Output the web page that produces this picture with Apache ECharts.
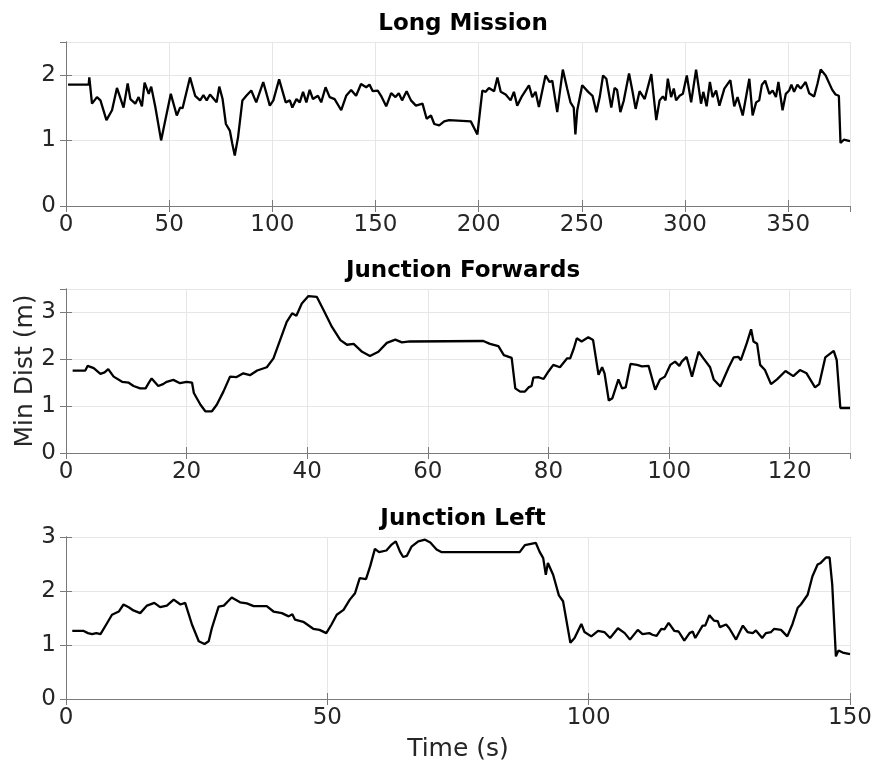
<!DOCTYPE html>
<html>
<head>
<meta charset="utf-8">
<title>Min Dist</title>
<script src="https://cdn.jsdelivr.net/npm/echarts@6/dist/echarts.min.js"></script>
<style>
	html, body { margin: 0; padding: 0; background: #fff; }
	#chart { width: 875px; height: 771px; }
</style>
</head>
<body>
<div id="chart"></div>
<script>
// 各子图的标题与坐标范围
var titles = ['Long Mission', 'Junction Forwards', 'Junction Left'];
var xMax = [380, 130, 150];
var xStep = [50, 20, 50];
var yMax = [2.5, 3.5, 3];

// Long Mission
var longTime = [1, 11, 11.3, 12.6, 15, 16.7, 19.6, 22.3, 24.7, 27.9, 29.9, 31.2, 33.6, 35.2, 36.8, 38.1, 40.1, 41.3, 43.3, 46.1,
	47.3, 50.8, 53.7, 55.3, 56.5, 60.1, 62.6, 65, 66.6, 68.2, 69.8, 73, 74.3, 75.9, 77.5, 79.4, 80.6, 81.8, 83.4, 85.5,
	87.4, 89.8, 92.2, 95.6, 98.8, 100.5, 103.3, 106.5, 108.5, 109.7, 111.7, 113.3, 114.9, 116.5, 118.1, 119.7, 122.1, 123.7, 125.8, 127.8,
	130.2, 133.4, 135.8, 138.2, 140.6, 143.0, 145.5, 147.1, 148.7, 151.1, 152.7, 155.2, 157.6, 159.7, 161.3, 162.9, 165.1, 167.2, 169.6, 172.8,
	174.8, 176.9, 178.5, 180.9, 183.3, 185.7, 196.2, 199.4, 201.8, 203.4, 205.0, 207.5, 209.1, 210.7, 213.1, 215.5, 217.1, 218.7, 221.1, 224.4,
	226.0, 227.6, 229.2, 232.4, 234.4, 235.7, 238.1, 240.8, 242.9, 244.5, 246.1, 246.9, 247.8, 250.2, 253.1, 255.2, 257.1, 258.7, 260.3, 261.9,
	264.3, 265.9, 267.1, 268.7, 270.3, 272.9, 274.5, 276.1, 278.0, 280.5, 283.7, 286.1, 287.7, 289.3, 290.6, 291.7, 293.3, 294.6, 295.7, 297.4,
	299.0, 300.9, 303.0, 305.4, 307.8, 308.9, 310.5, 312.1, 313.4, 315.1, 316.7, 319.1, 322.0, 323.9, 325.5, 328.0, 331.2, 332.8, 334.5, 336.0,
	337.3, 338.9, 340.9, 342.5, 344.1, 345.3, 347.3, 348.9, 350.5, 351.6, 352.9, 354.5, 356.1, 358.5, 360.2, 362.6, 364.2, 365.8, 368.2, 371.4,
	373.0, 374.6, 375.4, 377.0, 380];
var longDist = [1.85, 1.85, 1.96, 1.56, 1.66, 1.61, 1.31, 1.46, 1.80, 1.50, 1.87, 1.63, 1.56, 1.66, 1.52, 1.88, 1.71, 1.82, 1.51, 1.00,
	1.18, 1.71, 1.38, 1.50, 1.49, 1.96, 1.68, 1.61, 1.69, 1.61, 1.70, 1.58, 1.82, 1.63, 1.25, 1.15, 0.95, 0.77, 1.05, 1.61,
	1.68, 1.76, 1.58, 1.89, 1.53, 1.61, 1.93, 1.58, 1.61, 1.50, 1.63, 1.58, 1.74, 1.58, 1.77, 1.63, 1.68, 1.58, 1.81, 1.66,
	1.63, 1.46, 1.68, 1.77, 1.68, 1.86, 1.81, 1.85, 1.75, 1.76, 1.68, 1.52, 1.72, 1.66, 1.72, 1.61, 1.75, 1.61, 1.53, 1.56,
	1.33, 1.38, 1.25, 1.23, 1.29, 1.31, 1.29, 1.09, 1.76, 1.74, 1.80, 1.75, 1.96, 1.74, 1.70, 1.61, 1.74, 1.53, 1.68, 1.84,
	1.66, 1.74, 1.51, 1.99, 1.89, 1.91, 1.43, 2.08, 1.79, 1.58, 1.50, 1.09, 1.46, 1.84, 1.74, 1.68, 1.43, 1.66, 1.99, 1.94,
	1.50, 1.80, 1.77, 1.43, 1.60, 2.02, 1.76, 1.48, 1.75, 1.63, 2.01, 1.31, 1.61, 1.67, 1.61, 1.94, 1.66, 1.79, 1.61, 1.68,
	1.71, 1.99, 1.58, 2.08, 1.56, 1.74, 1.52, 1.89, 1.66, 1.76, 1.53, 1.79, 1.92, 1.52, 1.66, 1.38, 1.94, 1.38, 1.58, 1.61,
	1.85, 1.91, 1.71, 1.76, 1.66, 1.89, 1.46, 1.71, 1.76, 1.85, 1.74, 1.85, 1.79, 1.89, 1.72, 1.67, 1.86, 2.08, 1.99, 1.77,
	1.70, 1.68, 0.96, 1.01, 0.99];

// Junction Forwards
var fwdTime = [1.1, 3.2, 3.6, 4.6, 5.7, 6.4, 7.0, 7.9, 9.3, 10.4, 11.2, 12.3, 13.2, 13.7, 14.2, 15.3, 16.1, 16.7, 17.8, 18.9,
	20.0, 20.9, 21.2, 22.3, 23.1, 24.2, 25.0, 26.1, 27.2, 28.3, 29.4, 30.5, 31.7, 33.3, 34.4, 35.5, 36.6, 37.5, 38.2, 39.1,
	40.2, 41.6, 42.7, 44.1, 45.5, 46.6, 47.7, 49.1, 50.4, 51.8, 53.2, 54.6, 55.7, 57.0, 69.2, 70.3, 71.7, 72.6, 73.9, 74.5,
	75.3, 76.1, 76.7, 77.2, 77.5, 78.3, 79.2, 80.0, 80.8, 81.9, 83.1, 83.6, 84.2, 84.7, 85.5, 86.6, 87.4, 88.3, 88.9, 89.3,
	90.0, 90.6, 91.6, 92.2, 92.8, 93.6, 94.7, 95.5, 96.6, 97.7, 98.5, 99.3, 100.2, 101.0, 101.7, 102.1, 102.9, 103.8, 104.9, 105.7,
	106.8, 107.4, 108.5, 109.9, 110.7, 111.5, 111.9, 112.9, 113.6, 114.0, 114.6, 115.1, 115.9, 116.9, 117.9, 119.3, 120.6, 121.7, 122.8, 124.2,
	124.9, 125.9, 127.3, 127.8, 128.4, 130];
var fwdDist = [1.76, 1.76, 1.86, 1.81, 1.69, 1.72, 1.79, 1.63, 1.52, 1.50, 1.43, 1.38, 1.38, 1.49, 1.59, 1.43, 1.47, 1.52, 1.56, 1.49,
	1.52, 1.50, 1.28, 1.03, 0.89, 0.89, 1.03, 1.31, 1.63, 1.62, 1.70, 1.66, 1.76, 1.83, 2.02, 2.41, 2.80, 2.98, 2.93, 3.19,
	3.35, 3.33, 3.05, 2.69, 2.41, 2.31, 2.33, 2.16, 2.07, 2.16, 2.35, 2.42, 2.36, 2.38, 2.39, 2.33, 2.28, 2.09, 2.03, 1.38,
	1.31, 1.31, 1.40, 1.43, 1.61, 1.62, 1.58, 1.74, 1.88, 1.83, 2.02, 2.02, 2.23, 2.45, 2.38, 2.47, 2.41, 1.67, 1.83, 1.70,
	1.12, 1.17, 1.57, 1.38, 1.40, 1.90, 1.88, 1.85, 1.86, 1.35, 1.57, 1.63, 1.88, 1.95, 1.86, 1.95, 2.05, 1.63, 2.16, 2.02,
	1.83, 1.57, 1.42, 1.83, 2.04, 2.05, 1.98, 2.35, 2.64, 2.38, 2.33, 1.88, 1.77, 1.47, 1.57, 1.75, 1.64, 1.77, 1.70, 1.40,
	1.47, 2.04, 2.18, 1.98, 0.96, 0.96];

// Junction Left
var leftTime = [1.2, 3.4, 4.2, 5.0, 5.8, 6.6, 7.7, 8.8, 10.1, 11.0, 12.0, 12.9, 14.2, 15.5, 16.9, 18.0, 19.3, 20.6, 21.9, 22.8,
	24.1, 25.4, 26.5, 27.3, 27.9, 29.2, 30.2, 31.1, 31.7, 33.3, 34.6, 35.9, 37.2, 38.4, 39.7, 41.3, 42.6, 43.3, 43.8, 45.4,
	47.3, 48.5, 49.8, 50.8, 51.8, 53.1, 54.3, 55.3, 56.2, 57.4, 58.2, 59.1, 59.9, 61.3, 62.3, 63.1, 63.9, 64.5, 65.2, 66.1,
	67.4, 68.7, 69.7, 70.9, 71.8, 86.8, 87.8, 89.9, 90.6, 91.3, 91.8, 92.2, 93.2, 94.3, 95.1, 96.5, 97.3, 98.6, 99.2, 100.5,
	101.8, 103.0, 104.1, 105.6, 106.9, 107.9, 109.4, 110.3, 111.6, 112.2, 113.0, 113.9, 114.5, 115.3, 116.4, 117.2, 118.3, 119.3, 119.9, 120.4,
	121.8, 122.3, 123.1, 124.0, 124.7, 125.1, 126.3, 126.9, 128.2, 129.5, 130.4, 131.4, 132.0, 133.2, 133.9, 134.9, 135.5, 136.8, 138.0, 139.0,
	140.0, 140.6, 141.9, 142.8, 143.8, 144.4, 145.4, 146.1, 146.6, 147.3, 147.8, 148.6, 150];
var leftDist = [1.26, 1.26, 1.22, 1.20, 1.22, 1.20, 1.38, 1.56, 1.62, 1.75, 1.70, 1.64, 1.59, 1.73, 1.78, 1.70, 1.73, 1.84, 1.75, 1.78,
	1.38, 1.07, 1.02, 1.07, 1.31, 1.71, 1.73, 1.82, 1.88, 1.79, 1.77, 1.72, 1.72, 1.72, 1.62, 1.59, 1.53, 1.57, 1.47, 1.43,
	1.30, 1.28, 1.22, 1.38, 1.56, 1.65, 1.84, 1.96, 2.24, 2.22, 2.46, 2.78, 2.72, 2.75, 2.86, 2.92, 2.73, 2.63, 2.65, 2.82,
	2.92, 2.95, 2.90, 2.77, 2.72, 2.72, 2.85, 2.89, 2.73, 2.61, 2.30, 2.52, 2.30, 1.92, 1.81, 1.04, 1.13, 1.39, 1.24, 1.16,
	1.26, 1.24, 1.13, 1.31, 1.22, 1.10, 1.28, 1.20, 1.22, 1.19, 1.17, 1.30, 1.29, 1.41, 1.26, 1.25, 1.08, 1.22, 1.25, 1.13,
	1.36, 1.36, 1.55, 1.45, 1.44, 1.33, 1.38, 1.31, 1.10, 1.36, 1.24, 1.22, 1.27, 1.13, 1.22, 1.24, 1.30, 1.28, 1.16, 1.39,
	1.69, 1.75, 1.93, 2.27, 2.49, 2.52, 2.62, 2.62, 2.12, 0.79, 0.90, 0.86, 0.83];

var times = [longTime, fwdTime, leftTime];
var dists = [longDist, fwdDist, leftDist];

var FONT = 'DejaVu Sans';
var gridTops = [42, 289, 537];
var gridHeights = [164, 164, 162];

function pairs(xs, ys) {
	var out = [];
	for(var i = 0; i < xs.length; i++) {
		out.push([xs[i], ys[i]]);
	}
	return out;
}

function renderChart() {
	var myChart = echarts.init(document.getElementById('chart'));
	var grid = [], xAxis = [], yAxis = [], series = [], title = [];
	for(var i = 0; i < 3; i++) {
		grid.push({ left: 66, right: 25, top: gridTops[i], height: gridHeights[i], outerBoundsMode: 'none' });
		title.push({
			text: titles[i],
			left: 458,
			textAlign: 'center',
			top: gridTops[i] - 34,
			textStyle: { fontFamily: FONT, fontSize: 23, fontWeight: 'bold', color: '#000' }
		});
		var axisLine = { show: true, lineStyle: { color: '#7a7a7a', width: 1 } };
		var tick = { show: true, inside: true, length: 6, lineStyle: { color: '#7a7a7a' } };
		// 下方 x 轴
		xAxis.push({
			type: 'value', gridIndex: i, min: 0, max: xMax[i], interval: xStep[i], position: 'bottom',
			axisLine: axisLine, axisTick: tick,
			axisLabel: { fontFamily: FONT, fontSize: 23, color: '#262626', margin: 8, showMaxLabel: xMax[i] % xStep[i] === 0 },
			splitLine: { show: true, lineStyle: { color: '#e6e6e6' } },
			name: i === 2 ? 'Time (s)' : '',
			nameLocation: 'middle', nameGap: 38,
			nameTextStyle: { fontFamily: FONT, fontSize: 25, color: '#262626' }
		});
		// 上方 x 轴（只画刻度）
		xAxis.push({
			type: 'value', gridIndex: i, min: 0, max: xMax[i], interval: xStep[i], position: 'top',
			axisLine: axisLine, axisTick: tick, axisLabel: { show: false }, splitLine: { show: false }
		});
		yAxis.push({
			type: 'value', gridIndex: i, min: 0, max: yMax[i], interval: 1, position: 'left',
			axisLine: axisLine, axisTick: tick,
			axisLabel: { fontFamily: FONT, fontSize: 23, color: '#262626', margin: 10, showMaxLabel: yMax[i] % 1 === 0 },
			splitLine: { show: true, lineStyle: { color: '#e6e6e6' } }
		});
		yAxis.push({
			type: 'value', gridIndex: i, min: 0, max: yMax[i], interval: 1, position: 'right',
			axisLine: axisLine, axisTick: tick, axisLabel: { show: false }, splitLine: { show: false }
		});
		series.push({
			type: 'line',
			xAxisIndex: i * 2,
			yAxisIndex: i * 2,
			data: pairs(times[i], dists[i]),
			showSymbol: false,
			animation: false,
			lineStyle: { color: '#000', width: 2.3 }
		});
	}
	var option = {
		backgroundColor: '#fff',
		animation: false,
		title: title,
		grid: grid,
		xAxis: xAxis,
		yAxis: yAxis,
		series: series,
		graphic: [{
			type: 'text',
			x: 25,
			y: 371,
			rotation: Math.PI / 2,
			style: {
				text: 'Min Dist (m)',
				fontFamily: FONT,
				fontSize: 25,
				fill: '#262626',
				align: 'center',
				verticalAlign: 'middle'
			}
		}]
	};
	myChart.setOption(option);
	window.onresize = function() {
		myChart.resize();
	}
}

renderChart();
</script>
</body>
</html>
